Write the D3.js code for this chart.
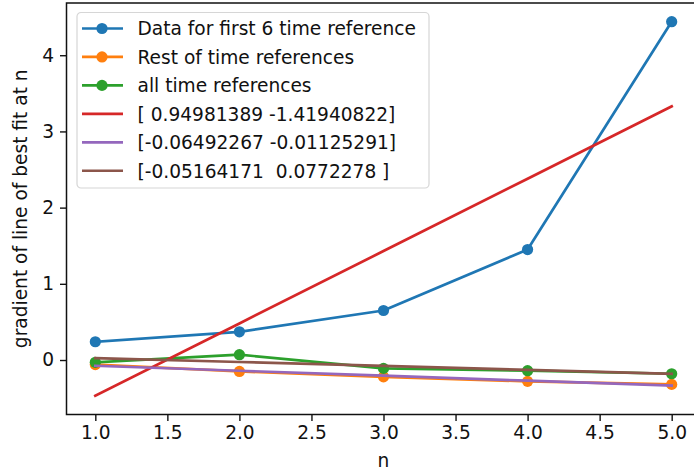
<!DOCTYPE html>
<html>
<head>
<meta charset="utf-8">
<script src="https://cdn.jsdelivr.net/npm/d3@7"></script>
<style>
  html, body { margin: 0; padding: 0; background: #fff; }
  svg { display: block; }
  text { font-family: "DejaVu Sans", sans-serif; fill: #111; }
</style>
</head>
<body>
<svg id="chart" width="694" height="472"></svg>
<script>
// n values shared by every series
const nValues = [1, 2, 3, 4, 5];

// gradient of the line of best fit at each n
const firstSixRefs = [0.24, 0.37, 0.65, 1.45, 4.44];
const restOfRefs   = [-0.06, -0.15, -0.22, -0.28, -0.32];
const allRefs      = [-0.03, 0.07, -0.11, -0.14, -0.18];

// polyfit coefficients [slope, intercept] of each series, and their printed labels
const fitFirstSix = [0.94981389, -1.41940822];
const fitRest     = [-0.06492267, -0.01125291];
const fitAll      = [-0.05164171, 0.0772278];
const fitLabels = [
  "[ 0.94981389 -1.41940822]",
  "[-0.06492267 -0.01125291]",
  "[-0.05164171  0.0772278 ]"
];

const xTicks = [1.0, 1.5, 2.0, 2.5, 3.0, 3.5, 4.0, 4.5, 5.0];
const yTicks = [0, 1, 2, 3, 4];

const C = {
  blue: "#1f77b4", orange: "#ff7f0e", green: "#2ca02c",
  red: "#d62728", purple: "#9467bd", brown: "#8c564b"
};

const FONT = "18.6px";
const LW = 2.7;      // series line width
const MR = 5.6;      // marker radius

const svg = d3.select("#chart");
const box = { left: 66.5, right: 700.5, top: 3, bottom: 414.5 };

const fitLine = (c) => nValues.map(n => c[0] * n + c[1]);
const fits = [fitFirstSix, fitRest, fitAll].map(fitLine);

// data limits with 5% padding on each side
const allY = [...firstSixRefs, ...restOfRefs, ...allRefs, ...fits.flat()];
const [yMin, yMax] = d3.extent(allY);
const yPad = (yMax - yMin) * 0.05;
const [xMin, xMax] = d3.extent(nValues);
const xPad = (xMax - xMin) * 0.05;

const x = d3.scaleLinear().domain([xMin - xPad, xMax + xPad]).range([box.left, box.right]);
const y = d3.scaleLinear().domain([yMin - yPad, yMax + yPad]).range([box.bottom, box.top]);

const plot = svg.append("g");
const line = d3.line().x((d, i) => x(nValues[i])).y(d => y(d));

const series = [
  { values: firstSixRefs, color: C.blue,   label: "Data for first 6 time reference", marker: true },
  { values: restOfRefs,   color: C.orange, label: "Rest of time references",         marker: true },
  { values: allRefs,      color: C.green,  label: "all time references",             marker: true },
  { values: fits[0],      color: C.red,    label: fitLabels[0], marker: false },
  { values: fits[1],      color: C.purple, label: fitLabels[1], marker: false },
  { values: fits[2],      color: C.brown,  label: fitLabels[2], marker: false }
];

series.forEach(s => {
  const g = plot.append("g");
  g.append("path")
    .attr("d", line(s.values))
    .attr("fill", "none")
    .attr("stroke", s.color)
    .attr("stroke-width", LW)
    .attr("stroke-linejoin", "round")
    .attr("stroke-linecap", "square");
  if (s.marker) {
    g.selectAll("circle").data(s.values).join("circle")
      .attr("cx", (d, i) => x(nValues[i]))
      .attr("cy", d => y(d))
      .attr("r", MR)
      .attr("fill", s.color);
  }
});

// axes
const xAxis = d3.axisBottom(x).tickValues(xTicks).tickFormat(d3.format(".1f")).tickSizeInner(6.5).tickSizeOuter(0).tickPadding(5);
const yAxis = d3.axisLeft(y).tickValues(yTicks).tickFormat(d3.format("d")).tickSizeInner(6.5).tickSizeOuter(0).tickPadding(6);

const gx = svg.append("g").attr("transform", `translate(0,${box.bottom})`).call(xAxis);
const gy = svg.append("g").attr("transform", `translate(${box.left},0)`).call(yAxis);
[gx, gy].forEach(g => {
  g.select(".domain").remove();
  g.selectAll(".tick line").attr("stroke", "#111").attr("stroke-width", 1.4);
  g.selectAll(".tick text").style("font-family", "DejaVu Sans").style("font-size", FONT).attr("fill", "#111");
});

// frame
svg.append("rect")
  .attr("x", box.left).attr("y", box.top)
  .attr("width", box.right - box.left).attr("height", box.bottom - box.top)
  .attr("fill", "none").attr("stroke", "#111").attr("stroke-width", 1.5);

// axis labels
svg.append("text")
  .attr("x", x(3)).attr("y", 467)
  .attr("text-anchor", "middle")
  .style("font-size", FONT)
  .text("n");

svg.append("text")
  .attr("transform", `translate(27,${(box.top + box.bottom) / 2}) rotate(-90)`)
  .attr("text-anchor", "middle")
  .style("font-size", FONT)
  .text("gradient of line of best fit at n");

// legend
const lg = svg.append("g").attr("transform", "translate(77,12.5)");
lg.append("rect")
  .attr("x", 0).attr("y", 0).attr("width", 352).attr("height", 175.5)
  .attr("rx", 4).attr("ry", 4)
  .attr("fill", "#fff").attr("fill-opacity", 0.8)
  .attr("stroke", "#d6d6d6").attr("stroke-width", 1.2);

series.forEach((s, i) => {
  const cy = 16 + i * 28.45;
  lg.append("line")
    .attr("x1", 5).attr("x2", 46).attr("y1", cy).attr("y2", cy)
    .attr("stroke", s.color).attr("stroke-width", LW);
  if (s.marker) {
    lg.append("circle").attr("cx", 25).attr("cy", cy).attr("r", MR).attr("fill", s.color);
  }
  lg.append("text")
    .attr("x", 60.5).attr("y", cy + 6.8)
    .attr("xml:space", "preserve")
    .style("white-space", "pre")
    .style("font-size", FONT)
    .text(s.label);
});
</script>
</body>
</html>
